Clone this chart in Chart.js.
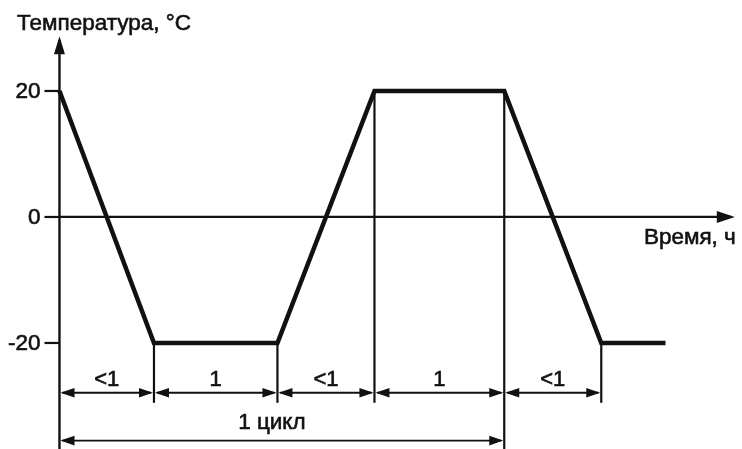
<!DOCTYPE html>
<html lang="ru">
<head>
<meta charset="UTF-8">
<title>Температурный цикл</title>
<script src="https://cdn.jsdelivr.net/npm/chart.js"></script>
<style>
  body { margin: 0; background: #fff; }
</style>
</head>
<body>
<canvas id="cycleChart" width="742" height="449"></canvas>
<script>
// profile of the cycle: time (h) and temperature (°C)
const timePoints = [0, 0.75, 1.73, 2.5, 3.53, 4.3, 4.81];
const tempPoints = [20, -20, -20, 20, 20, -20, -20];

// y axis ticks
const yTicks = [20, 0, -20];

// dimension segments under the chart
const segmentBounds = [0, 0.75, 1.73, 2.5, 3.53, 4.3];
const segmentLabels = ['<1', '1', '<1', '1', '<1'];
const cycleStart = 0;
const cycleEnd = 3.53;
const cycleLabel = '1 цикл';

const yTitle = 'Температура, °C';
const xTitle = 'Время, ч';

const INK = '#111';
const FONT = '22.5px "Liberation Sans", Arial, sans-serif';

function arrowHead(ctx, x, y, dir, len, half) {
  // dir: 'left' | 'right' | 'up'
  ctx.beginPath();
  if (dir === 'right') {
    ctx.moveTo(x, y); ctx.lineTo(x - len, y - half); ctx.lineTo(x - len, y + half);
  } else if (dir === 'left') {
    ctx.moveTo(x, y); ctx.lineTo(x + len, y - half); ctx.lineTo(x + len, y + half);
  } else {
    ctx.moveTo(x, y); ctx.lineTo(x - half, y + len); ctx.lineTo(x + half, y + len);
  }
  ctx.closePath();
  ctx.fill();
}

function line(ctx, x1, y1, x2, y2, w) {
  ctx.lineWidth = w;
  ctx.beginPath();
  ctx.moveTo(x1, y1);
  ctx.lineTo(x2, y2);
  ctx.stroke();
}

// scanned text looks a bit heavier than plain regular
function text(ctx, s, x, y) {
  ctx.fillText(s, x, y);
  ctx.lineWidth = 0.6;
  ctx.strokeText(s, x, y);
}

const schemePlugin = {
  id: 'scheme',
  beforeDatasetsDraw(chart) {
    const ctx = chart.ctx;
    const xs = chart.scales.x, ys = chart.scales.y;
    const area = chart.chartArea;
    const x0 = xs.getPixelForValue(0);
    const y0 = ys.getPixelForValue(0);
    ctx.save();
    ctx.strokeStyle = INK;
    ctx.fillStyle = INK;
    ctx.lineCap = 'butt';

    // y axis with arrow
    const yTop = ys.getPixelForValue(28.7);
    line(ctx, x0, area.bottom, x0, yTop + 4, 2.4);
    arrowHead(ctx, x0, yTop, 'up', 18, 5.5);

    // x axis with arrow
    const xEnd = xs.getPixelForValue(5.36);
    line(ctx, x0, y0, xEnd - 4, y0, 2.2);
    arrowHead(ctx, xEnd, y0, 'right', 18, 6);

    // ticks and tick labels
    ctx.font = FONT;
    ctx.textAlign = 'right';
    ctx.textBaseline = 'middle';
    yTicks.forEach(v => {
      const py = ys.getPixelForValue(v);
      line(ctx, x0 - 15, py, x0, py, 2.2);
      text(ctx, String(v), x0 - 19, py + 1);
    });

    // axis titles
    ctx.textAlign = 'left';
    ctx.textBaseline = 'alphabetic';
    text(ctx, yTitle, 17, 30);
    ctx.textAlign = 'right';
    text(ctx, xTitle, xEnd + 1, 244);

    // extension lines
    const dimY = ys.getPixelForValue(-27.9);
    const extBottom = ys.getPixelForValue(-29.5);
    for (let i = 1; i < timePoints.length - 1; i++) {
      const px = xs.getPixelForValue(timePoints[i]);
      const top = ys.getPixelForValue(tempPoints[i]);
      const bottom = timePoints[i] === cycleEnd ? area.bottom : extBottom;
      line(ctx, px, top, px, bottom, 2.2);
    }

    // segment dimension line
    ctx.textAlign = 'center';
    ctx.font = '22px "Liberation Sans", Arial, sans-serif';
    ctx.textBaseline = 'middle';
    for (let i = 0; i < segmentLabels.length; i++) {
      const a = xs.getPixelForValue(segmentBounds[i]);
      const b = xs.getPixelForValue(segmentBounds[i + 1]);
      line(ctx, a + 3, dimY, b - 3, dimY, 1.8);
      arrowHead(ctx, a + 1, dimY, 'left', 14, 4.8);
      arrowHead(ctx, b - 1, dimY, 'right', 14, 4.8);
      text(ctx, segmentLabels[i], (a + b) / 2, ys.getPixelForValue(-25.8));
    }

    // cycle dimension line
    const cy = ys.getPixelForValue(-35.5);
    const ca = xs.getPixelForValue(cycleStart);
    const cb = xs.getPixelForValue(cycleEnd);
    line(ctx, ca + 3, cy, cb - 3, cy, 1.8);
    arrowHead(ctx, ca + 1, cy, 'left', 14, 4.8);
    arrowHead(ctx, cb - 1, cy, 'right', 14, 4.8);
    ctx.font = FONT;
    text(ctx, cycleLabel, (ca + cb) / 2 - 10, ys.getPixelForValue(-32.7));

    ctx.restore();
  }
};

new Chart(document.getElementById('cycleChart'), {
  type: 'line',
  data: {
    datasets: [{
      data: timePoints.map((t, i) => ({ x: t, y: tempPoints[i] })),
      borderColor: INK,
      borderWidth: 4.5,
      borderJoinStyle: 'miter',
      borderCapStyle: 'butt',
      pointRadius: 0,
      tension: 0,
      fill: false
    }]
  },
  options: {
    responsive: false,
    devicePixelRatio: 1,
    animation: false,
    layout: { padding: 0 },
    plugins: {
      legend: { display: false },
      tooltip: { enabled: false }
    },
    scales: {
      x: { type: 'linear', display: false, min: -0.472, max: 5.417 },
      y: { type: 'linear', display: false, min: -36.83, max: 34.44 }
    }
  },
  plugins: [schemePlugin]
});
</script>
</body>
</html>
